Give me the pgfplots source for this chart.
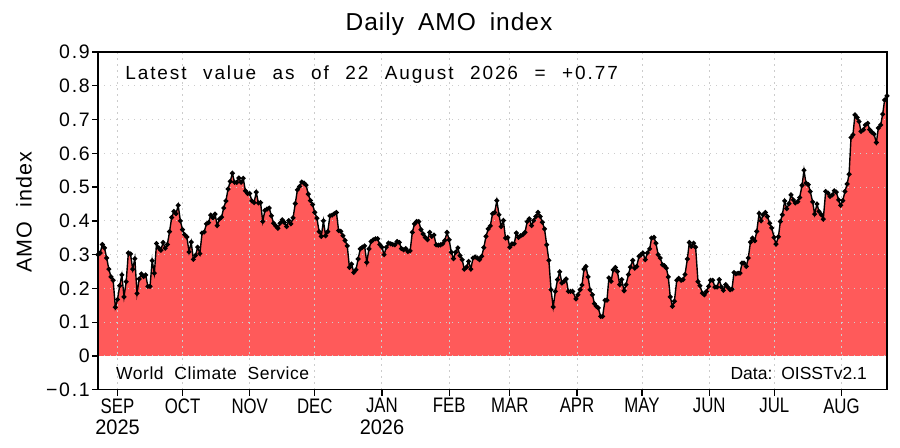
\documentclass[border=0pt]{standalone}
\usepackage{fontspec}
\setmainfont{Liberation Sans}
\newfontfamily\titlefont{Liberation Sans}[LetterSpace=4,WordSpace=1.8]
\newfontfamily\latestfont{Liberation Sans}[LetterSpace=10,WordSpace=2.3]
\newfontfamily\tickfont{Liberation Sans}[LetterSpace=9]
\newfontfamily\monthfont{Liberation Sans}[FakeStretch=0.8]
\newfontfamily\yearfont{Liberation Sans}[FakeStretch=0.95]
\newfontfamily\notefont{Liberation Sans}[LetterSpace=3,WordSpace=2]
\newfontfamily\datafont{Liberation Sans}[WordSpace=1.5]
\newfontfamily\ylabfont{Liberation Sans}[LetterSpace=5,WordSpace=2]
\usepackage{pgfplots}
\usepackage{pgfplotstable}
\pgfplotsset{compat=1.18}
\definecolor{amored}{HTML}{FF5A5A}

\pgfplotstableread{
d v
-9 0.300
-8 0.305
-7 0.330
-6 0.320
-5 0.290
-4 0.257
-3 0.234
-2 0.224
-1 0.144
0 0.167
1 0.208
2 0.240
3 0.175
4 0.220
5 0.305
6 0.302
7 0.257
8 0.288
9 0.185
10 0.228
11 0.243
12 0.235
13 0.240
14 0.206
15 0.206
16 0.282
17 0.245
18 0.333
19 0.320
20 0.313
21 0.336
22 0.319
23 0.330
24 0.368
25 0.410
26 0.428
27 0.421
28 0.446
29 0.400
30 0.374
31 0.359
32 0.352
33 0.308
34 0.337
35 0.286
36 0.298
37 0.322
38 0.303
39 0.364
40 0.367
41 0.391
42 0.395
43 0.417
44 0.409
45 0.420
46 0.386
47 0.405
48 0.411
49 0.438
50 0.459
51 0.494
52 0.517
53 0.541
54 0.514
55 0.514
56 0.527
57 0.514
58 0.526
59 0.489
60 0.481
61 0.481
62 0.459
63 0.454
64 0.485
65 0.453
66 0.454
67 0.398
68 0.431
69 0.435
70 0.438
71 0.415
72 0.393
73 0.385
74 0.378
75 0.393
76 0.403
77 0.395
78 0.383
79 0.401
80 0.391
81 0.409
82 0.451
83 0.492
84 0.502
85 0.515
86 0.512
87 0.506
88 0.479
89 0.460
90 0.448
91 0.425
92 0.408
93 0.368
94 0.354
95 0.400
96 0.356
97 0.368
98 0.415
99 0.417
100 0.421
101 0.425
102 0.371
103 0.369
104 0.356
105 0.342
106 0.326
107 0.262
108 0.272
109 0.247
110 0.255
111 0.287
112 0.317
113 0.322
114 0.326
115 0.277
116 0.317
117 0.339
118 0.344
119 0.347
120 0.347
121 0.330
122 0.322
123 0.300
124 0.322
125 0.334
126 0.332
127 0.330
128 0.329
129 0.339
130 0.336
131 0.318
132 0.314
133 0.318
134 0.309
135 0.311
136 0.366
137 0.391
138 0.398
139 0.398
140 0.374
141 0.361
142 0.351
143 0.344
144 0.366
145 0.354
146 0.358
147 0.329
148 0.328
149 0.329
150 0.332
151 0.342
152 0.366
153 0.344
154 0.307
155 0.288
156 0.307
157 0.320
158 0.297
159 0.285
160 0.257
161 0.263
162 0.280
163 0.257
164 0.290
165 0.293
166 0.290
167 0.285
168 0.295
169 0.321
170 0.354
171 0.376
172 0.385
173 0.421
174 0.425
175 0.460
176 0.418
177 0.383
178 0.401
179 0.349
180 0.351
181 0.322
182 0.332
183 0.332
184 0.364
185 0.351
186 0.356
187 0.359
188 0.366
189 0.398
190 0.406
191 0.386
192 0.401
193 0.413
194 0.425
195 0.413
196 0.396
197 0.376
198 0.329
199 0.283
200 0.196
201 0.145
202 0.191
203 0.226
204 0.249
205 0.216
206 0.221
207 0.228
208 0.191
209 0.191
210 0.191
211.5 0.169
212.4 0.181
213.4 0.196
214.3 0.210
215.2 0.257
216.1 0.265
217.1 0.234
218.0 0.196
219.1 0.181
220.0 0.155
220.9 0.147
221.8 0.142
222.9 0.117
223.8 0.117
224.9 0.165
225.8 0.165
226.7 0.231
227.7 0.221
228.7 0.255
229.7 0.262
230.6 0.250
231.7 0.211
232.6 0.226
233.7 0.193
234.6 0.211
235.7 0.241
236.6 0.263
237.7 0.283
238.6 0.260
239.5 0.265
240.6 0.295
241.5 0.300
242.4 0.305
243.5 0.285
244.4 0.305
245.5 0.317
246.4 0.349
247.5 0.351
248.4 0.334
249.4 0.300
250.4 0.290
251.4 0.270
252.3 0.267
253.2 0.260
254.1 0.234
255.0 0.175
256.0 0.147
256.9 0.162
258.0 0.224
258.9 0.230
260.0 0.224
260.9 0.226
261.8 0.241
262.9 0.287
263.8 0.336
264.7 0.324
265.8 0.334
266.7 0.322
267.8 0.220
268.7 0.208
269.8 0.186
270.7 0.181
271.7 0.191
272.7 0.206
273.6 0.224
274.6 0.224
275.6 0.204
276.6 0.204
277.6 0.226
278.6 0.204
279.5 0.194
280.6 0.211
281.5 0.204
282.6 0.196
283.5 0.198
284.4 0.247
285.3 0.243
286.3 0.245
287.2 0.245
288.1 0.275
289.0 0.275
290.1 0.265
291.0 0.290
292.0 0.337
292.9 0.349
294.0 0.341
294.9 0.369
296.0 0.422
296.9 0.400
297.8 0.418
298.9 0.425
299.8 0.413
300.9 0.393
301.8 0.379
302.9 0.351
303.8 0.331
304.9 0.353
305.8 0.398
306.7 0.418
307.8 0.459
308.7 0.436
309.8 0.451
310.7 0.477
311.8 0.462
312.7 0.453
313.8 0.457
314.7 0.469
315.8 0.505
316.7 0.550
317.6 0.512
318.7 0.507
319.6 0.487
320.7 0.456
321.6 0.420
322.7 0.450
323.6 0.428
324.7 0.418
325.6 0.405
326.7 0.487
327.8 0.482
328.7 0.472
329.8 0.477
330.7 0.489
331.6 0.485
332.7 0.462
333.6 0.446
334.6 0.460
335.6 0.487
336.6 0.509
337.5 0.538
338.4 0.647
339.3 0.655
340.2 0.714
341.2 0.706
342.1 0.694
343.0 0.665
344.1 0.670
345.0 0.684
346.1 0.689
347.0 0.670
347.9 0.663
349.0 0.657
350.1 0.632
351.0 0.675
352.1 0.684
353.0 0.716
353.9 0.758
355.0 0.770
}\amodata

\begin{document}
\begin{tikzpicture}
\begin{axis}[
  at={(98bp,58.3bp)}, anchor=south west,
  width=789bp, height=337.7bp, scale only axis,
  set layers,
  xmin=-9, xmax=355, ymin=-0.1, ymax=0.9,
  xtick={0,30,61,91,122,153,181,212,242,273,303,334},
  xticklabels={{SEP\\\yearfont 2025},OCT,NOV,DEC,{JAN\\\yearfont 2026},FEB,MAR,APR,MAY,JUN,JUL,AUG},
  ytick={-0.1,0,0.1,0.2,0.3,0.4,0.5,0.6,0.7,0.8,0.9},
  yticklabels={−0.1,0,0.1,0.2,0.3,0.4,0.5,0.6,0.7,0.8,0.9},
  xtick pos=lower, ytick pos=left,
  tick align=outside, major tick length=6bp,
  tick style={black, line width=1.3bp},
  axis line style={black, line width=1.5bp},
  xticklabel style={align=center, font=\monthfont\fontsize{21bp}{21.5bp}\selectfont, inner sep=1bp, yshift=-1.5bp},
  yticklabel style={font=\tickfont\fontsize{19.5bp}{20bp}\selectfont, inner sep=2bp},
  grid=major,
  grid style={gray!40, line width=1bp, dash pattern=on 1.2bp off 4.8bp},
]
\addplot[draw=none, fill=amored, on layer=axis background] table[x=d, y=v] {\amodata} \closedcycle;
\addplot[black, line width=1.4bp, mark=*, mark size=1.7bp, mark options={black, solid}] table[x=d, y=v] {\amodata};
\node[anchor=base west, font=\latestfont\fontsize{19bp}{22bp}\selectfont] at (axis cs:2.0,0.819) {Latest value as of 22 August 2026 = +0.77};
\node[anchor=base west, font=\notefont\fontsize{17.5bp}{20bp}\selectfont, inner sep=0pt] at (axis cs:-0.7,-0.070) {World Climate Service};
\node[anchor=base east, font=\datafont\fontsize{17.5bp}{20bp}\selectfont, inner sep=0pt] at (axis cs:345.8,-0.070) {Data: OISSTv2.1};
\end{axis}
\node[anchor=base, font=\titlefont\fontsize{24.5bp}{29bp}\selectfont, inner sep=0pt] at (449bp,417bp) {Daily AMO index};
\node[anchor=base, rotate=90, font=\ylabfont\fontsize{21.5bp}{25bp}\selectfont, inner sep=0pt] at (31.5bp,236bp) {AMO index};
\pgfresetboundingbox
\path[use as bounding box] (0,0) rectangle (900bp,448bp);
\end{tikzpicture}
\end{document}
